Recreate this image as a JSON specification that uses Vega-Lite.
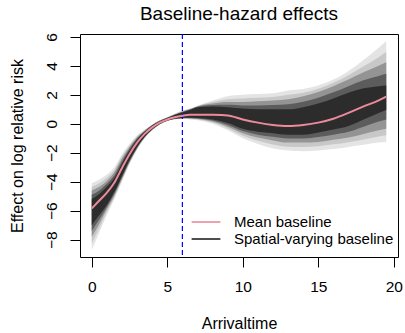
{
  "$schema": "https://vega.github.io/schema/vega-lite/v6.json",
  "width": 318,
  "height": 223,
  "autosize": {"type": "none"},
  "padding": {"left": 80, "top": 34, "right": 7, "bottom": 76},
  "background": "white",
  "config": {
    "font": "Liberation Sans",
    "view": {"stroke": "black", "strokeWidth": 1},
    "axis": {"grid": false, "domain": false, "tickColor": "black", "tickSize": 10, "labelColor": "black", "titleColor": "black", "labelFontSize": 15.5, "titleFontSize": 16, "titleFontWeight": "normal", "labelFont": "Liberation Sans", "titleFont": "Liberation Sans", "labelOverlap": false}
  },
  "title": {"text": "Baseline-hazard effects", "fontSize": 19, "fontWeight": "normal", "font": "Liberation Sans", "anchor": "middle", "offset": 9, "color": "black"},
  "datasets": {
    "fan": [
      {"x": 0, "band": "env", "lo": -8.7, "hi": -4.1},
      {"x": 0.5, "band": "env", "lo": -7.5, "hi": -3.85},
      {"x": 1, "band": "env", "lo": -6.3, "hi": -3.5},
      {"x": 1.5, "band": "env", "lo": -5.2, "hi": -3.0},
      {"x": 2, "band": "env", "lo": -4.0, "hi": -2.1},
      {"x": 2.5, "band": "env", "lo": -2.8, "hi": -1.4},
      {"x": 3, "band": "env", "lo": -1.8, "hi": -0.8},
      {"x": 3.5, "band": "env", "lo": -1.0, "hi": -0.4},
      {"x": 4, "band": "env", "lo": -0.45, "hi": -0.05},
      {"x": 4.5, "band": "env", "lo": -0.05, "hi": 0.25},
      {"x": 5, "band": "env", "lo": 0.2, "hi": 0.45},
      {"x": 5.5, "band": "env", "lo": 0.3, "hi": 0.7},
      {"x": 6, "band": "env", "lo": 0.35, "hi": 0.9},
      {"x": 6.5, "band": "env", "lo": 0.3, "hi": 1.05},
      {"x": 7, "band": "env", "lo": 0.25, "hi": 1.25},
      {"x": 8, "band": "env", "lo": 0.0, "hi": 1.6},
      {"x": 9, "band": "env", "lo": -0.45, "hi": 1.9},
      {"x": 10, "band": "env", "lo": -1.0, "hi": 2.0},
      {"x": 11, "band": "env", "lo": -1.4, "hi": 2.05},
      {"x": 12, "band": "env", "lo": -1.7, "hi": 2.1},
      {"x": 13, "band": "env", "lo": -1.85, "hi": 2.3},
      {"x": 14, "band": "env", "lo": -1.9, "hi": 2.4},
      {"x": 15, "band": "env", "lo": -1.85, "hi": 2.65},
      {"x": 16, "band": "env", "lo": -1.75, "hi": 3.05},
      {"x": 17, "band": "env", "lo": -1.6, "hi": 3.65},
      {"x": 18, "band": "env", "lo": -1.45, "hi": 4.4},
      {"x": 19, "band": "env", "lo": -1.3, "hi": 5.25},
      {"x": 19.5, "band": "env", "lo": -1.25, "hi": 5.7},
      {"x": 0, "band": "outer", "lo": -8.25, "hi": -4.35},
      {"x": 0.5, "band": "outer", "lo": -7.2, "hi": -4.1},
      {"x": 1, "band": "outer", "lo": -6.1, "hi": -3.72},
      {"x": 1.5, "band": "outer", "lo": -5.07, "hi": -3.17},
      {"x": 2, "band": "outer", "lo": -3.9, "hi": -2.25},
      {"x": 2.5, "band": "outer", "lo": -2.72, "hi": -1.5},
      {"x": 3, "band": "outer", "lo": -1.75, "hi": -0.88},
      {"x": 3.5, "band": "outer", "lo": -0.98, "hi": -0.44},
      {"x": 4, "band": "outer", "lo": -0.44, "hi": -0.06},
      {"x": 4.5, "band": "outer", "lo": -0.04, "hi": 0.24},
      {"x": 5, "band": "outer", "lo": 0.2, "hi": 0.44},
      {"x": 5.5, "band": "outer", "lo": 0.31, "hi": 0.68},
      {"x": 6, "band": "outer", "lo": 0.36, "hi": 0.88},
      {"x": 6.5, "band": "outer", "lo": 0.33, "hi": 1.03},
      {"x": 7, "band": "outer", "lo": 0.29, "hi": 1.23},
      {"x": 8, "band": "outer", "lo": 0.08, "hi": 1.5},
      {"x": 9, "band": "outer", "lo": -0.32, "hi": 1.7},
      {"x": 10, "band": "outer", "lo": -0.82, "hi": 1.75},
      {"x": 11, "band": "outer", "lo": -1.18, "hi": 1.8},
      {"x": 12, "band": "outer", "lo": -1.43, "hi": 1.85},
      {"x": 13, "band": "outer", "lo": -1.58, "hi": 2.0},
      {"x": 14, "band": "outer", "lo": -1.6, "hi": 2.15},
      {"x": 15, "band": "outer", "lo": -1.55, "hi": 2.42},
      {"x": 16, "band": "outer", "lo": -1.42, "hi": 2.83},
      {"x": 17, "band": "outer", "lo": -1.27, "hi": 3.35},
      {"x": 18, "band": "outer", "lo": -1.08, "hi": 3.97},
      {"x": 19, "band": "outer", "lo": -0.88, "hi": 4.6},
      {"x": 19.5, "band": "outer", "lo": -0.8, "hi": 4.95},
      {"x": 0, "band": "mid", "lo": -7.8, "hi": -4.6},
      {"x": 0.5, "band": "mid", "lo": -6.9, "hi": -4.35},
      {"x": 1, "band": "mid", "lo": -5.9, "hi": -3.95},
      {"x": 1.5, "band": "mid", "lo": -4.95, "hi": -3.35},
      {"x": 2, "band": "mid", "lo": -3.8, "hi": -2.4},
      {"x": 2.5, "band": "mid", "lo": -2.65, "hi": -1.6},
      {"x": 3, "band": "mid", "lo": -1.7, "hi": -0.95},
      {"x": 3.5, "band": "mid", "lo": -0.95, "hi": -0.48},
      {"x": 4, "band": "mid", "lo": -0.42, "hi": -0.08},
      {"x": 4.5, "band": "mid", "lo": -0.03, "hi": 0.22},
      {"x": 5, "band": "mid", "lo": 0.21, "hi": 0.43},
      {"x": 5.5, "band": "mid", "lo": 0.33, "hi": 0.65},
      {"x": 6, "band": "mid", "lo": 0.38, "hi": 0.85},
      {"x": 6.5, "band": "mid", "lo": 0.37, "hi": 1.0},
      {"x": 7, "band": "mid", "lo": 0.33, "hi": 1.2},
      {"x": 8, "band": "mid", "lo": 0.15, "hi": 1.4},
      {"x": 9, "band": "mid", "lo": -0.2, "hi": 1.5},
      {"x": 10, "band": "mid", "lo": -0.65, "hi": 1.5},
      {"x": 11, "band": "mid", "lo": -0.95, "hi": 1.55},
      {"x": 12, "band": "mid", "lo": -1.15, "hi": 1.6},
      {"x": 13, "band": "mid", "lo": -1.3, "hi": 1.7},
      {"x": 14, "band": "mid", "lo": -1.3, "hi": 1.9},
      {"x": 15, "band": "mid", "lo": -1.25, "hi": 2.2},
      {"x": 16, "band": "mid", "lo": -1.1, "hi": 2.6},
      {"x": 17, "band": "mid", "lo": -0.95, "hi": 3.05},
      {"x": 18, "band": "mid", "lo": -0.7, "hi": 3.55},
      {"x": 19, "band": "mid", "lo": -0.45, "hi": 4.0},
      {"x": 19.5, "band": "mid", "lo": -0.35, "hi": 4.25},
      {"x": 0, "band": "inner", "lo": -7.4, "hi": -4.9},
      {"x": 0.5, "band": "inner", "lo": -6.6, "hi": -4.6},
      {"x": 1, "band": "inner", "lo": -5.75, "hi": -4.15},
      {"x": 1.5, "band": "inner", "lo": -4.82, "hi": -3.55},
      {"x": 2, "band": "inner", "lo": -3.7, "hi": -2.58},
      {"x": 2.5, "band": "inner", "lo": -2.58, "hi": -1.72},
      {"x": 3, "band": "inner", "lo": -1.65, "hi": -1.02},
      {"x": 3.5, "band": "inner", "lo": -0.92, "hi": -0.52},
      {"x": 4, "band": "inner", "lo": -0.4, "hi": -0.1},
      {"x": 4.5, "band": "inner", "lo": -0.025, "hi": 0.2},
      {"x": 5, "band": "inner", "lo": 0.215, "hi": 0.415},
      {"x": 5.5, "band": "inner", "lo": 0.34, "hi": 0.62},
      {"x": 6, "band": "inner", "lo": 0.39, "hi": 0.81},
      {"x": 6.5, "band": "inner", "lo": 0.4, "hi": 0.98},
      {"x": 7, "band": "inner", "lo": 0.37, "hi": 1.18},
      {"x": 8, "band": "inner", "lo": 0.22, "hi": 1.3},
      {"x": 9, "band": "inner", "lo": -0.08, "hi": 1.32},
      {"x": 10, "band": "inner", "lo": -0.5, "hi": 1.27},
      {"x": 11, "band": "inner", "lo": -0.75, "hi": 1.27},
      {"x": 12, "band": "inner", "lo": -0.9, "hi": 1.3},
      {"x": 13, "band": "inner", "lo": -1.02, "hi": 1.35},
      {"x": 14, "band": "inner", "lo": -1.02, "hi": 1.52},
      {"x": 15, "band": "inner", "lo": -0.92, "hi": 1.8},
      {"x": 16, "band": "inner", "lo": -0.75, "hi": 2.17},
      {"x": 17, "band": "inner", "lo": -0.55, "hi": 2.6},
      {"x": 18, "band": "inner", "lo": -0.2, "hi": 3.0},
      {"x": 19, "band": "inner", "lo": 0.15, "hi": 3.3},
      {"x": 19.5, "band": "inner", "lo": 0.3, "hi": 3.45},
      {"x": 0, "band": "core", "lo": -7.0, "hi": -5.2},
      {"x": 0.5, "band": "core", "lo": -6.3, "hi": -4.85},
      {"x": 1, "band": "core", "lo": -5.6, "hi": -4.35},
      {"x": 1.5, "band": "core", "lo": -4.7, "hi": -3.75},
      {"x": 2, "band": "core", "lo": -3.6, "hi": -2.75},
      {"x": 2.5, "band": "core", "lo": -2.5, "hi": -1.85},
      {"x": 3, "band": "core", "lo": -1.6, "hi": -1.1},
      {"x": 3.5, "band": "core", "lo": -0.9, "hi": -0.55},
      {"x": 4, "band": "core", "lo": -0.38, "hi": -0.12},
      {"x": 4.5, "band": "core", "lo": -0.02, "hi": 0.18},
      {"x": 5, "band": "core", "lo": 0.22, "hi": 0.4},
      {"x": 5.5, "band": "core", "lo": 0.35, "hi": 0.6},
      {"x": 6, "band": "core", "lo": 0.4, "hi": 0.78},
      {"x": 6.5, "band": "core", "lo": 0.42, "hi": 0.95},
      {"x": 7, "band": "core", "lo": 0.4, "hi": 1.15},
      {"x": 8, "band": "core", "lo": 0.3, "hi": 1.2},
      {"x": 9, "band": "core", "lo": 0.05, "hi": 1.15},
      {"x": 10, "band": "core", "lo": -0.35, "hi": 1.05},
      {"x": 11, "band": "core", "lo": -0.55, "hi": 1.0},
      {"x": 12, "band": "core", "lo": -0.65, "hi": 1.0},
      {"x": 13, "band": "core", "lo": -0.75, "hi": 1.0},
      {"x": 14, "band": "core", "lo": -0.75, "hi": 1.15},
      {"x": 15, "band": "core", "lo": -0.6, "hi": 1.4},
      {"x": 16, "band": "core", "lo": -0.4, "hi": 1.75},
      {"x": 17, "band": "core", "lo": -0.15, "hi": 2.15},
      {"x": 18, "band": "core", "lo": 0.3, "hi": 2.45},
      {"x": 19, "band": "core", "lo": 0.75, "hi": 2.6},
      {"x": 19.5, "band": "core", "lo": 0.95, "hi": 2.65}
    ],
    "mean": [
      {"x": 0, "y": -5.85, "series": "Mean baseline"},
      {"x": 0.5, "y": -5.3, "series": "Mean baseline"},
      {"x": 1, "y": -4.75, "series": "Mean baseline"},
      {"x": 1.5, "y": -4.05, "series": "Mean baseline"},
      {"x": 2, "y": -3.05, "series": "Mean baseline"},
      {"x": 2.5, "y": -2.1, "series": "Mean baseline"},
      {"x": 3, "y": -1.3, "series": "Mean baseline"},
      {"x": 3.5, "y": -0.7, "series": "Mean baseline"},
      {"x": 4, "y": -0.25, "series": "Mean baseline"},
      {"x": 4.5, "y": 0.08, "series": "Mean baseline"},
      {"x": 5, "y": 0.3, "series": "Mean baseline"},
      {"x": 5.5, "y": 0.45, "series": "Mean baseline"},
      {"x": 6, "y": 0.55, "series": "Mean baseline"},
      {"x": 6.5, "y": 0.62, "series": "Mean baseline"},
      {"x": 7, "y": 0.63, "series": "Mean baseline"},
      {"x": 8, "y": 0.62, "series": "Mean baseline"},
      {"x": 9, "y": 0.58, "series": "Mean baseline"},
      {"x": 10, "y": 0.3, "series": "Mean baseline"},
      {"x": 11, "y": 0.08, "series": "Mean baseline"},
      {"x": 12, "y": -0.08, "series": "Mean baseline"},
      {"x": 13, "y": -0.15, "series": "Mean baseline"},
      {"x": 14, "y": -0.08, "series": "Mean baseline"},
      {"x": 15, "y": 0.08, "series": "Mean baseline"},
      {"x": 16, "y": 0.35, "series": "Mean baseline"},
      {"x": 17, "y": 0.75, "series": "Mean baseline"},
      {"x": 18, "y": 1.2, "series": "Mean baseline"},
      {"x": 19, "y": 1.62, "series": "Mean baseline"},
      {"x": 19.5, "y": 1.88, "series": "Mean baseline"}
    ],
    "cut": [{"x": 6}]
  },
  "encoding": {
    "x": {"field": "x", "type": "quantitative", "title": "Arrivaltime",
      "scale": {"domain": [-0.78, 20.28], "nice": false, "zero": false},
      "axis": {"values": [0, 5, 10, 15, 20], "labelPadding": 12, "titlePadding": 21, "labelFlush": false}}
  },
  "layer": [
    {
      "data": {"name": "fan"},
      "mark": {"type": "area", "interpolate": "monotone", "opacity": 1},
      "encoding": {
        "y": {"field": "lo", "type": "quantitative", "title": "Effect on log relative risk",
          "scale": {"domain": [-9.2, 6.2], "nice": false, "zero": false},
          "axis": {"values": [-8, -6, -4, -2, 0, 2, 4, 6], "labelAngle": -90, "labelPadding": 11, "titlePadding": 19, "labelFlush": false, "labelOverlap": false}},
        "y2": {"field": "hi"},
        "fill": {"field": "band", "type": "nominal", "scale": {"domain": ["env", "outer", "mid", "inner", "core"], "range": ["#e4e4e4", "#c8c8c8", "#949494", "#5c5c5c", "#2c2c2c"]}, "legend": null}
      }
    },
    {
      "data": {"name": "cut"},
      "mark": {"type": "rule", "color": "#0000FF", "strokeDash": [5, 3], "strokeWidth": 1.2},
      "encoding": {}
    },
    {
      "data": {"name": "mean"},
      "mark": {"type": "line", "strokeWidth": 2, "interpolate": "monotone"},
      "encoding": {
        "y": {"field": "y", "type": "quantitative", "title": "Effect on log relative risk",
          "scale": {"domain": [-9.2, 6.2], "nice": false, "zero": false},
          "axis": {"values": [-8, -6, -4, -2, 0, 2, 4, 6], "labelAngle": -90, "labelPadding": 11, "titlePadding": 19, "labelFlush": false, "labelOverlap": false}},
        "color": {"field": "series", "type": "nominal", "title": null,
          "scale": {"domain": ["Mean baseline", "Spatial-varying baseline"], "range": ["#EC8A9B", "#222222"]},
          "legend": {"orient": "none", "legendX": 117, "legendY": 179, "symbolType": "M-1.8,0H1.8", "symbolSize": 256, "symbolStrokeWidth": 1.6, "labelFontSize": 15, "labelFont": "Liberation Sans", "labelColor": "black", "labelOffset": 19, "rowPadding": 0, "padding": 0}}
      }
    }
  ]
}
